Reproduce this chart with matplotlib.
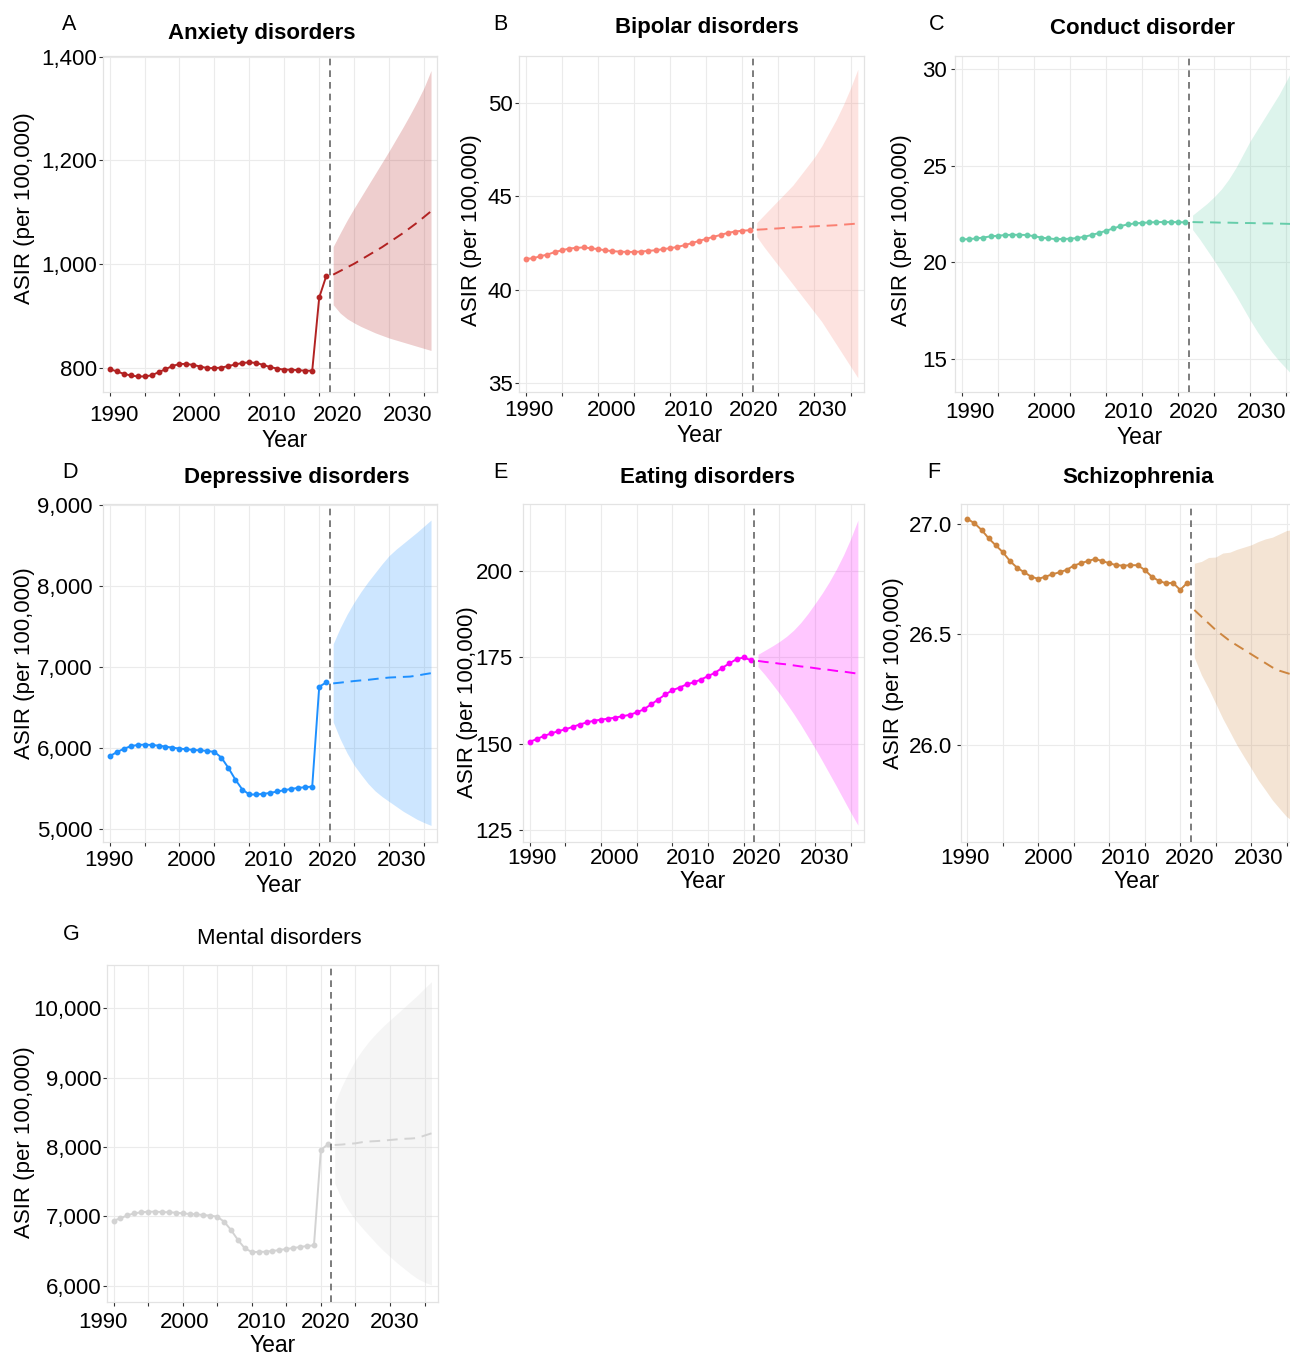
import matplotlib
matplotlib.use("Agg")
import matplotlib.pyplot as plt
import matplotlib.transforms as mtransforms
from matplotlib.ticker import FuncFormatter

plt.rcParams['font.family'] = ['Liberation Sans', 'DejaVu Sans']

W, H = 1290, 1355

hist_years = list(range(1990, 2022))
fcst_years = list(range(2022, 2037))

# ---- observed ASIR, 1990-2021 ----
anxiety_hist = [798, 794, 789, 786, 784, 784, 786, 792, 798, 804, 808, 808, 806, 803, 800, 800,
                801, 804, 807, 810, 811, 810, 806, 802, 799, 797, 797, 796, 795, 795, 936, 977]
bipolar_hist = [41.66, 41.69, 41.80, 41.89, 42.02, 42.12, 42.21, 42.25, 42.27, 42.23, 42.18, 42.12,
                42.07, 42.05, 42.03, 42.03, 42.05, 42.09, 42.12, 42.18, 42.23, 42.30, 42.39, 42.50,
                42.62, 42.73, 42.84, 42.94, 43.05, 43.12, 43.17, 43.19]
conduct_hist = [21.19, 21.21, 21.24, 21.29, 21.35, 21.38, 21.42, 21.43, 21.43, 21.42, 21.36, 21.29,
                21.24, 21.21, 21.21, 21.23, 21.26, 21.33, 21.42, 21.52, 21.64, 21.76, 21.88, 21.97,
                22.02, 22.05, 22.07, 22.09, 22.09, 22.09, 22.09, 22.07]
depressive_hist = [5897, 5947, 5988, 6021, 6037, 6041, 6037, 6029, 6016, 6004, 5992, 5984, 5975, 5971,
                   5963, 5951, 5881, 5754, 5610, 5487, 5426, 5426, 5434, 5446, 5463, 5479, 5495, 5508,
                   5516, 5524, 6755, 6808]
eating_hist = [150.5, 151.3, 152.2, 152.9, 153.6, 154.1, 154.8, 155.5, 156.1, 156.6, 156.9, 157.2,
               157.5, 157.9, 158.3, 159.0, 159.9, 161.3, 162.7, 164.2, 165.4, 166.2, 167.1, 167.7,
               168.5, 169.5, 170.5, 171.9, 173.2, 174.4, 174.9, 174.1]
schizo_hist = [27.023, 27.003, 26.973, 26.935, 26.903, 26.872, 26.832, 26.802, 26.781, 26.761, 26.751,
               26.761, 26.772, 26.781, 26.792, 26.811, 26.822, 26.832, 26.841, 26.832, 26.822, 26.813,
               26.811, 26.813, 26.813, 26.792, 26.761, 26.742, 26.731, 26.733, 26.701, 26.733]
mental_hist = [6938, 6971, 7014, 7043, 7058, 7067, 7067, 7062, 7058, 7053, 7043, 7034, 7029, 7019,
               7010, 6995, 6923, 6803, 6659, 6538, 6486, 6486, 6490, 6500, 6514, 6529, 6543, 6558,
               6572, 6582, 7957, 8038]

# ---- projections 2022-2036: mean, lower, upper ----
anxiety_mean = [980, 987, 994, 1001, 1009, 1017, 1025, 1033, 1042, 1051, 1060, 1070, 1080, 1091, 1102]
anxiety_low = [922, 906, 895, 887, 880, 874, 868, 863, 858, 854, 850, 846, 842, 838, 834]
anxiety_up = [1034, 1060, 1085, 1108, 1130, 1152, 1174, 1196, 1218, 1241, 1264, 1288, 1313, 1340, 1373]

bipolar_mean = [43.22, 43.24, 43.27, 43.29, 43.32, 43.34, 43.36, 43.38, 43.40, 43.42, 43.44, 43.46,
                43.49, 43.52, 43.55]
bipolar_low = [42.85, 42.3, 41.8, 41.3, 40.8, 40.3, 39.8, 39.3, 38.8, 38.3, 37.7, 37.1, 36.5, 35.9, 35.3]
bipolar_up = [43.6, 44.0, 44.4, 44.8, 45.2, 45.6, 46.1, 46.6, 47.1, 47.7, 48.4, 49.1, 49.9, 50.8, 51.8]

conduct_mean = [22.09, 22.08, 22.08, 22.07, 22.06, 22.06, 22.05, 22.04, 22.04, 22.03, 22.02, 22.02,
                22.01, 22.00, 21.99]
conduct_low = [21.7, 21.2, 20.65, 20.1, 19.5, 18.9, 18.3, 17.65, 17.0, 16.4, 15.85, 15.35, 14.9, 14.5, 14.1]
conduct_up = [22.45, 22.75, 23.05, 23.4, 23.8, 24.3, 24.9, 25.6, 26.3, 26.9, 27.5, 28.1, 28.7, 29.4, 30.1]

depressive_mean = [6796, 6805, 6815, 6825, 6833, 6840, 6850, 6860, 6868, 6872, 6876, 6880, 6892, 6908, 6922]
depressive_low = [6320, 6110, 5935, 5787, 5670, 5560, 5470, 5400, 5340, 5280, 5220, 5170, 5120, 5080, 5045]
depressive_up = [7284, 7480, 7650, 7797, 7930, 8050, 8160, 8270, 8371, 8450, 8520, 8590, 8660, 8735, 8810]

eating_mean = [173.9, 173.6, 173.4, 173.1, 172.9, 172.6, 172.3, 172.1, 171.8, 171.5, 171.3, 171.0,
               170.8, 170.5, 170.2]
eating_low = [172.2, 169.8, 167.2, 164.5, 161.6, 158.6, 155.4, 152.0, 148.6, 145.0, 141.3, 137.6,
              133.8, 130.0, 126.4]
eating_up = [175.8, 177.0, 178.2, 179.5, 181.0, 182.8, 185.0, 187.6, 190.5, 193.5, 196.8, 200.5,
             204.6, 209.3, 214.6]

schizo_mean = [26.61, 26.58, 26.55, 26.52, 26.495, 26.47, 26.45, 26.43, 26.41, 26.39, 26.37, 26.35,
               26.335, 26.325, 26.315]
schizo_low = [26.395, 26.316, 26.255, 26.187, 26.119, 26.059, 25.998, 25.945, 25.893, 25.84, 25.795,
              25.749, 25.711, 25.674, 25.651]
schizo_up = [26.822, 26.83, 26.848, 26.85, 26.868, 26.872, 26.885, 26.895, 26.905, 26.92, 26.932,
             26.94, 26.955, 26.97, 26.975]

mental_mean = [8029, 8035, 8045, 8053, 8070, 8080, 8085, 8092, 8101, 8110, 8118, 8122, 8130, 8165, 8197]
mental_low = [7476, 7250, 7085, 6947, 6830, 6720, 6610, 6510, 6418, 6330, 6250, 6170, 6100, 6050, 6010]
mental_up = [8630, 8870, 9075, 9255, 9400, 9530, 9640, 9740, 9832, 9920, 10010, 10100, 10190, 10290, 10385]

year_labels = ["1990", "2000", "2010", "2020", "2030"]

panels = [
    dict(letter="A", title="Anxiety disorders", bold=True, color="#B22222",
         hist=anxiety_hist, mean=anxiety_mean, low=anxiety_low, up=anxiety_up,
         yticks=[800, 1000, 1200, 1400], ylim=(754, 1401), fmt="comma"),
    dict(letter="B", title="Bipolar disorders", bold=True, color="#FA8072",
         hist=bipolar_hist, mean=bipolar_mean, low=bipolar_low, up=bipolar_up,
         yticks=[35, 40, 45, 50], ylim=(34.52, 52.53), fmt="int"),
    dict(letter="C", title="Conduct disorder", bold=True, color="#66CDAA",
         hist=conduct_hist, mean=conduct_mean, low=conduct_low, up=conduct_up,
         yticks=[15, 20, 25, 30], ylim=(13.27, 30.71), fmt="int"),
    dict(letter="D", title="Depressive disorders", bold=True, color="#1E90FF",
         hist=depressive_hist, mean=depressive_mean, low=depressive_low, up=depressive_up,
         yticks=[5000, 6000, 7000, 8000, 9000], ylim=(4844, 9008), fmt="comma"),
    dict(letter="E", title="Eating disorders", bold=True, color="#FF00FF",
         hist=eating_hist, mean=eating_mean, low=eating_low, up=eating_up,
         yticks=[125, 150, 175, 200], ylim=(121.6, 219.2), fmt="int"),
    dict(letter="F", title="Schizophrenia", bold=True, color="#CD853F",
         hist=schizo_hist, mean=schizo_mean, low=schizo_low, up=schizo_up,
         yticks=[26.0, 26.5, 27.0], ylim=(25.56, 27.089), fmt="dec1"),
    dict(letter="G", title="Mental disorders", bold=False, color="#D3D3D3",
         hist=mental_hist, mean=mental_mean, low=mental_low, up=mental_up,
         yticks=[6000, 7000, 8000, 9000, 10000], ylim=(5760, 10625), fmt="comma"),
]

# pixel layout of each panel: axes box, text anchors, year-label centres
layout = [
    dict(box=(103.3, 56, 437.3, 392), letter=(69, 25), title=(262, 33), ylab=(25, 208),
         xlab=(285, 440), tick_y=415, label_x=[1990.6, 2002.5, 2013.2, 2022.6, 2032.6], ypad=1.3),
    dict(box=(519.3, 55.7, 864.3, 392.3), letter=(500, 24), title=(707, 28), ylab=(472, 230),
         xlab=(700, 435), tick_y=411, label_x=[1990.5, 2001.9, 2012.5, 2021.6, 2031.1], ypad=1.8),
    dict(box=(955.3, 55.7, 1300, 392.3), letter=(937, 24), title=(1143, 28), ylab=(902, 230),
         xlab=(1140, 437), tick_y=413, label_x=[1991.1, 2002.5, 2013.1, 2022.1, 2031.6], ypad=2.8),
    dict(box=(103.3, 504, 437.3, 841.7), letter=(70, 473), title=(297, 478), ylab=(25, 663),
         xlab=(279, 885), tick_y=861, label_x=[1989.9, 2001.7, 2012.7, 2021.9, 2031.8], ypad=5.0),
    dict(box=(523.3, 504.3, 864.3, 841.7), letter=(500, 473), title=(707, 478), ylab=(467, 702),
         xlab=(703, 882), tick_y=858, label_x=[1990.3, 2001.9, 2012.6, 2021.8, 2031.4], ypad=4.6),
    dict(box=(961, 504.3, 1300, 841.7), letter=(934, 473), title=(1138, 478), ylab=(893, 673),
         xlab=(1137, 882), tick_y=858, label_x=[1989.7, 2001.5, 2012.3, 2021.4, 2031.1], ypad=3.7),
    dict(box=(107.3, 965, 437.7, 1302.3), letter=(71, 935), title=(279, 938), ylab=(25, 1142),
         xlab=(273, 1345), tick_y=1323, label_x=[1988.4, 2000.3, 2011.4, 2020.7, 2030.7], ypad=1.0),
]

FORMATS = {
    "comma": FuncFormatter(lambda v, p: f"{v:,.0f}"),
    "int": FuncFormatter(lambda v, p: f"{v:.0f}"),
    "dec1": FuncFormatter(lambda v, p: f"{v:.1f}"),
}

fig = plt.figure(figsize=(W / 100, H / 100), dpi=100)
fig.patch.set_facecolor("white")


def fx(px):
    return px / W


def fy(py):
    return 1 - py / H


for p, lay in zip(panels, layout):
    l, t, r, b = lay["box"]
    ax = fig.add_axes([fx(l), fy(b), (r - l) / W, (b - t) / H])
    ax.set_xlim(1989.1, 2036.9)
    ax.set_ylim(*p["ylim"])

    ax.fill_between(fcst_years, p["low"], p["up"], color=p["color"], alpha=0.22,
                    linewidth=0, zorder=1)
    ax.plot(fcst_years, p["mean"], color=p["color"], lw=1.4, ls=(0, (5.5, 3.5)), zorder=3)
    ax.plot(hist_years, p["hist"], color=p["color"], lw=1.4, marker="o", ms=3.2,
            zorder=4)
    ax.axvline(2021.5, color="#666666", lw=1.2, ls=(0, (4, 3)), zorder=5)

    ax.set_xticks(range(1990, 2036, 5))
    ax.set_xticklabels([])
    ax.set_yticks(p["yticks"])
    ax.yaxis.set_major_formatter(FORMATS[p["fmt"]])
    ax.grid(True, color="#EBEBEB", lw=0.8, zorder=0)
    ax.set_axisbelow(True)
    ax.tick_params(axis="both", direction="out", length=3, width=0.8, color="#333333")
    ax.tick_params(axis="y", labelsize=16, pad=lay["ypad"], labelcolor="black")
    for s in ax.spines.values():
        s.set_color("#E3E3E3")
        s.set_linewidth(0.9)

    # year labels along the bottom
    trans = mtransforms.blended_transform_factory(ax.transData, fig.transFigure)
    for yr, txt in zip(lay["label_x"], year_labels):
        ax.text(yr, fy(lay["tick_y"]), txt, transform=trans, ha="center", va="center",
                fontsize=16, clip_on=False)

    fig.text(fx(lay["xlab"][0]), fy(lay["xlab"][1]), "Year", ha="center", va="center",
             fontsize=16.5)
    fig.text(fx(lay["ylab"][0]), fy(lay["ylab"][1]), "ASIR (per 100,000)", ha="center",
             va="center", rotation=90, fontsize=16)
    fig.text(fx(lay["title"][0]), fy(lay["title"][1]), p["title"], ha="center", va="center",
             fontsize=16, fontweight="bold" if p["bold"] else "normal")
    fig.text(fx(lay["letter"][0]), fy(lay["letter"][1]), p["letter"], ha="center",
             va="center", fontsize=15.5)

fig.savefig("out.png", dpi=100, facecolor="white")
